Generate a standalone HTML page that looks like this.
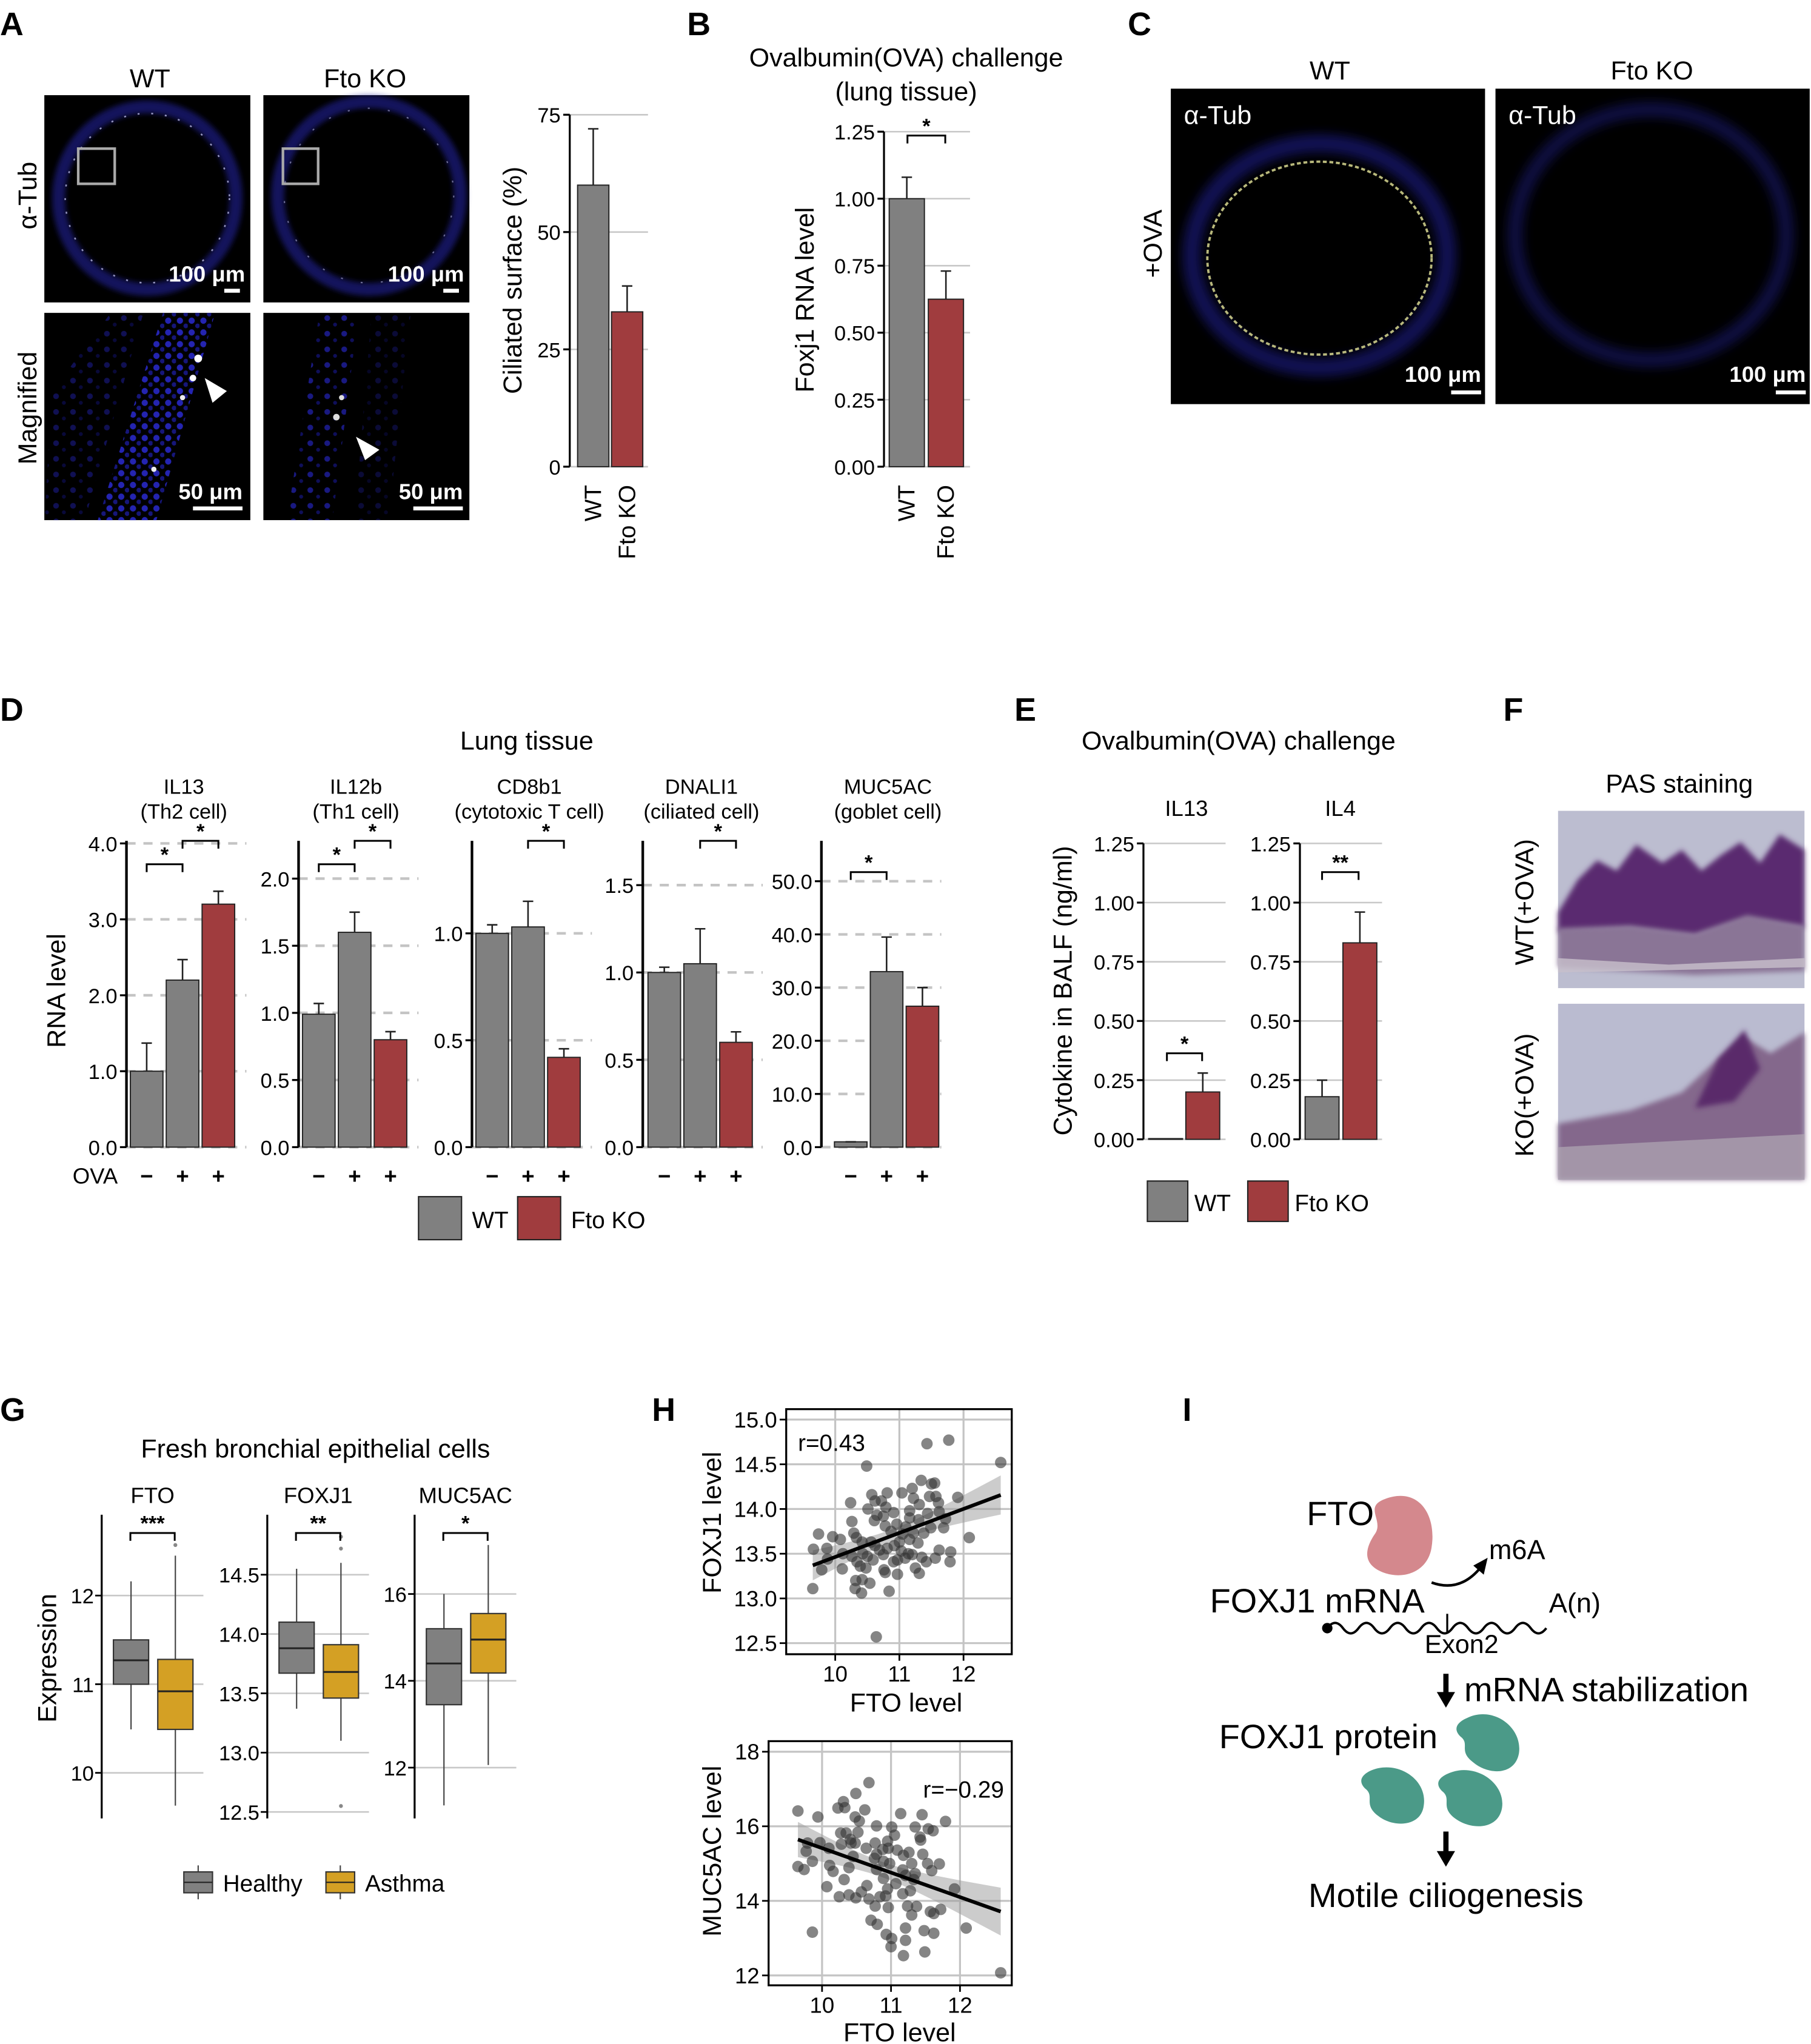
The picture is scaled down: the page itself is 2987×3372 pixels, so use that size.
<!DOCTYPE html>
<html><head><meta charset="utf-8">
<style>
html,body{margin:0;padding:0;background:#fff;}
svg{display:block;font-family:"Liberation Sans",Arial,sans-serif;}
</style></head>
<body>
<svg id="fig" width="2987" height="3372" viewBox="0 0 1389 1568" xmlns="http://www.w3.org/2000/svg">
<defs>
<filter id="blur2" x="-20%" y="-20%" width="140%" height="140%"><feGaussianBlur stdDeviation="2"/></filter>
<filter id="blur4" x="-20%" y="-20%" width="140%" height="140%"><feGaussianBlur stdDeviation="4"/></filter>
<pattern id="bluedots" width="9" height="9" patternUnits="userSpaceOnUse"><circle cx="3" cy="3" r="2.4" fill="#2a2ad0"/><circle cx="7.5" cy="7" r="1.8" fill="#1a1a90"/></pattern>
<pattern id="bluedots2" width="13" height="12" patternUnits="userSpaceOnUse"><circle cx="4" cy="4" r="2.2" fill="#2424b8"/><circle cx="10" cy="9" r="1.5" fill="#151580"/></pattern>
</defs>

<g font-size="25" font-weight="bold">
<text x="0" y="27">A</text>
<text x="527" y="27">B</text>
<text x="865" y="27">C</text>
<text x="0" y="553">D</text>
<text x="778" y="553">E</text>
<text x="1153" y="553">F</text>
<text x="0" y="1090">G</text>
<text x="500" y="1090">H</text>
<text x="907" y="1090">I</text>
</g>

<g>
<text x="115" y="67" font-size="20" text-anchor="middle">WT</text>
<text x="280" y="67" font-size="20" text-anchor="middle">Fto KO</text>
<text x="28" y="150" font-size="20" text-anchor="middle" transform="rotate(-90 28 150)">α-Tub</text>
<text x="28" y="313" font-size="20" text-anchor="middle" transform="rotate(-90 28 313)">Magnified</text>
<g>
<rect x="34" y="73" width="158" height="159" fill="#000"/>
<ellipse cx="113" cy="152" rx="68" ry="70" fill="none" stroke="#20209a" stroke-width="10" opacity="0.6" filter="url(#blur2)"/>
<ellipse cx="113" cy="152" rx="63" ry="65" fill="none" stroke="#d0d0ff" stroke-width="1.2" stroke-dasharray="1.5 9" opacity="0.7"/>
<rect x="60" y="114" width="28" height="27" fill="none" stroke="#aaa" stroke-width="2"/>
<text x="188" y="216" font-size="17" fill="#fff" font-weight="bold" text-anchor="end">100 μm</text>
<line x1="172" y1="223" x2="184" y2="223" stroke="#fff" stroke-width="3"/>
</g>
<g>
<rect x="202" y="73" width="158" height="159" fill="#000"/>
<ellipse cx="283" cy="150" rx="70" ry="72" fill="none" stroke="#20209a" stroke-width="10" opacity="0.6" filter="url(#blur2)"/>
<ellipse cx="283" cy="150" rx="65" ry="67" fill="none" stroke="#d0d0ff" stroke-width="1" stroke-dasharray="1.5 14" opacity="0.5"/>
<rect x="217" y="114" width="27" height="27" fill="none" stroke="#aaa" stroke-width="2"/>
<text x="356" y="216" font-size="17" fill="#fff" font-weight="bold" text-anchor="end">100 μm</text>
<line x1="340" y1="223" x2="352" y2="223" stroke="#fff" stroke-width="3"/>
</g>
<g>
<rect x="34" y="240" width="158" height="159" fill="#000"/>
<polygon points="125,240 165,240 120,399 75,399" fill="url(#bluedots)" opacity="0.85"/>
<polygon points="40,300 85,240 110,240 65,399 34,399" fill="url(#bluedots2)" opacity="0.45"/>
<circle cx="152" cy="275" r="3" fill="#fff"/><circle cx="148" cy="290" r="2.5" fill="#fff"/><circle cx="140" cy="305" r="2" fill="#eee"/><circle cx="118" cy="360" r="2" fill="#eee"/>
<polygon points="157,290 174,300 163,309" fill="#fff"/>
<text x="186" y="383" font-size="17" fill="#fff" font-weight="bold" text-anchor="end">50 μm</text>
<line x1="148" y1="390" x2="186" y2="390" stroke="#fff" stroke-width="3"/>
</g>
<g>
<rect x="202" y="240" width="158" height="159" fill="#000"/>
<polygon points="245,240 275,240 255,399 220,399" fill="url(#bluedots2)" opacity="0.7"/>
<polygon points="285,240 315,240 298,399 272,399" fill="url(#bluedots2)" opacity="0.3"/>
<circle cx="258" cy="320" r="2.5" fill="#ddd"/><circle cx="262" cy="305" r="2" fill="#ddd"/>
<polygon points="273,335 291,345 280,353" fill="#fff"/>
<text x="355" y="383" font-size="17" fill="#fff" font-weight="bold" text-anchor="end">50 μm</text>
<line x1="317" y1="390" x2="355" y2="390" stroke="#fff" stroke-width="3"/>
</g>
</g>

<g>
<text x="1020" y="61" font-size="20" text-anchor="middle">WT</text>
<text x="1267" y="61" font-size="20" text-anchor="middle">Fto KO</text>
<text x="891" y="187" font-size="20" text-anchor="middle" transform="rotate(-90 891 187)">+OVA</text>
<g>
<rect x="898" y="68" width="241" height="242" fill="#000"/>
<ellipse cx="1012" cy="196" rx="98" ry="86" fill="none" stroke="#1c1c8a" stroke-width="14" opacity="0.6" filter="url(#blur4)"/>
<ellipse cx="1012" cy="198" rx="86" ry="74" fill="none" stroke="#d8d890" stroke-width="1.8" stroke-dasharray="3 2" opacity="0.85"/>
<text x="908" y="95" font-size="20" fill="#fff">α-Tub</text>
<text x="1136" y="293" font-size="17" fill="#fff" font-weight="bold" text-anchor="end">100 μm</text>
<line x1="1113" y1="301" x2="1136" y2="301" stroke="#fff" stroke-width="3"/>
</g>
<g>
<rect x="1147" y="68" width="241" height="242" fill="#000"/>
<ellipse cx="1266" cy="180" rx="104" ry="96" fill="none" stroke="#1a1a80" stroke-width="12" opacity="0.5" filter="url(#blur4)"/>
<text x="1157" y="95" font-size="20" fill="#fff">α-Tub</text>
<text x="1385" y="293" font-size="17" fill="#fff" font-weight="bold" text-anchor="end">100 μm</text>
<line x1="1362" y1="301" x2="1385" y2="301" stroke="#fff" stroke-width="3"/>
</g>
</g>

<g>
<text x="1288" y="608" font-size="20" text-anchor="middle">PAS staining</text>
<text x="1176" y="692" font-size="20" text-anchor="middle" transform="rotate(-90 1176 692)">WT(+OVA)</text>
<text x="1176" y="840" font-size="20" text-anchor="middle" transform="rotate(-90 1176 840)">KO(+OVA)</text>
<g>
<rect x="1195" y="622" width="189" height="136" fill="#bcbdd0"/>
<polygon points="1195,700 1210,675 1225,660 1240,668 1255,648 1275,662 1290,652 1305,668 1320,656 1335,646 1350,662 1365,640 1384,652 1384,712 1340,705 1300,718 1250,712 1195,715" fill="#5a2a70" filter="url(#blur2)"/>
<polygon points="1195,712 1250,710 1300,716 1340,702 1384,710 1384,745 1300,748 1195,742" fill="#8a7496" filter="url(#blur2)"/>
<polygon points="1195,735 1280,740 1384,735 1384,742 1195,746" fill="#c8c0cc" opacity="0.8"/>
</g>
<g>
<rect x="1195" y="770" width="189" height="135" fill="#babbd0"/>
<polygon points="1195,862 1250,852 1290,838 1318,812 1338,796 1358,808 1384,792 1384,905 1195,905" fill="#84688c" filter="url(#blur2)"/>
<polygon points="1318,812 1338,790 1350,820 1330,845 1300,850" fill="#5a2a6a" filter="url(#blur2)"/>
<polygon points="1195,880 1384,870 1384,905 1195,905" fill="#b0a8b4" opacity="0.7"/>
</g>
</g>

<g>
<text x="1028" y="1170" font-size="26" text-anchor="middle">FTO</text>
<path d="M1062,1150 C1088,1140 1102,1162 1098,1187 C1095,1207 1074,1213 1058,1205 C1044,1198 1048,1186 1055,1176 C1061,1166 1046,1156 1062,1150Z" fill="#d4888d"/>
<path d="M1098,1214 Q1120,1222 1136,1202" fill="none" stroke="#000" stroke-width="2"/>
<polygon points="1141,1195 1138,1208 1130,1201" fill="#000"/>
<text x="1142" y="1196" font-size="21">m6A</text>
<text x="928" y="1237" font-size="26">FOXJ1 mRNA</text>
<path d="M1018,1249 q6,-8 12,0 t12,0 t12,0 t12,0 t12,0 t12,0 t12,0 t12,0 t12,0 t12,0 t12,0 t12,0 t12,0 t12,0" fill="none" stroke="#000" stroke-width="1.8"/>
<circle cx="1018" cy="1249" r="4" fill="#000"/>
<line x1="1110" y1="1238" x2="1110" y2="1252" stroke="#000" stroke-width="1.5"/>
<text x="1188" y="1237" font-size="21">A(n)</text>
<text x="1121" y="1268" font-size="20" text-anchor="middle">Exon2</text>
<line x1="1109" y1="1284" x2="1109" y2="1300" stroke="#000" stroke-width="4"/>
<polygon points="1102,1298 1116,1298 1109,1310" fill="#000"/>
<text x="1123" y="1305" font-size="26">mRNA stabilization</text>
<text x="935" y="1341" font-size="26">FOXJ1 protein</text>
<path d="M1125,1318 C1145,1308 1168,1325 1165,1345 C1162,1362 1142,1362 1130,1352 C1118,1343 1128,1338 1120,1332 C1114,1326 1118,1321 1125,1318Z" fill="#4b9a88"/>
<path d="M1052,1358 C1072,1350 1095,1365 1092,1385 C1090,1402 1068,1402 1057,1393 C1045,1384 1055,1378 1047,1372 C1041,1366 1045,1361 1052,1358Z" fill="#4b9a88"/>
<path d="M1112,1360 C1132,1352 1155,1368 1152,1387 C1149,1404 1128,1404 1116,1395 C1104,1386 1114,1380 1106,1374 C1100,1368 1104,1363 1112,1360Z" fill="#4b9a88"/>
<line x1="1109" y1="1405" x2="1109" y2="1422" stroke="#000" stroke-width="4"/>
<polygon points="1102,1420 1116,1420 1109,1432" fill="#000"/>
<text x="1109" y="1463" font-size="26" text-anchor="middle">Motile ciliogenesis</text>
</g>
</svg>

<script>
// Panel A
const aCats = ['WT', 'Fto KO'];
const aVals = [60, 33];
const aErr = [72, 38.5];
const aTicks = [0, 25, 50, 75];
// Panel B
const bCats = ['WT', 'Fto KO'];
const bVals = [1.0, 0.625];
const bErr = [1.08, 0.73];
const bTicks = [0, 0.25, 0.5, 0.75, 1.0, 1.25];
// Panel D
const dOva = ['−', '+', '+'];
const d1Vals = [1.0, 2.2, 3.2];
const d1Err = [1.37, 2.47, 3.37];
const d1Ticks = [0, 1, 2, 3, 4];
const d2Vals = [0.99, 1.6, 0.8];
const d2Err = [1.07, 1.75, 0.86];
const d2Ticks = [0, 0.5, 1, 1.5, 2];
const d3Vals = [1.0, 1.03, 0.42];
const d3Err = [1.04, 1.15, 0.46];
const d3Ticks = [0, 0.5, 1];
const d4Vals = [1.0, 1.05, 0.6];
const d4Err = [1.03, 1.25, 0.66];
const d4Ticks = [0, 0.5, 1, 1.5];
const d5Vals = [1, 33, 26.5];
const d5Err = [1, 39.5, 30];
const d5Ticks = [0, 10, 20, 30, 40, 50];
// Panel E
const eTicks = [0, 0.25, 0.5, 0.75, 1.0, 1.25];
const e1Vals = [0.003, 0.2];
const e1Err = [null, 0.28];
const e2Vals = [0.18, 0.83];
const e2Err = [0.25, 0.96];
// Panel G  [min, q1, median, q3, max]
const g1Healthy = [10.49, 11.0, 11.27, 11.5, 12.16];
const g1Asthma = [9.63, 10.49, 10.92, 11.28, 12.45];
const g1AsthmaOut = [12.57];
const g1Ticks = [10, 11, 12];
const g2Healthy = [13.37, 13.67, 13.88, 14.1, 14.55];
const g2Asthma = [13.1, 13.46, 13.68, 13.91, 14.6];
const g2AsthmaOut = [14.72, 14.82, 12.55];
const g2Ticks = [12.5, 13.0, 13.5, 14.0, 14.5];
const g3Healthy = [11.13, 13.45, 14.4, 15.2, 16.0];
const g3Asthma = [12.06, 14.18, 14.95, 15.55, 17.13];
const g3Ticks = [12, 14, 16];
// Panel H top
const h1x = [11.43,11.77,12.58,10.49,11.34,11.55,11.50,11.20,11.04,10.81,10.57,11.47,11.57,11.91,11.22,10.24,10.62,10.72,11.31,11.61,10.51,10.79,10.91,11.16,11.44,11.62,10.65,10.75,10.26,10.61,11.16,11.30,11.72,10.78,10.96,11.10,11.49,11.69,9.74,9.96,10.08,10.29,10.33,10.56,10.87,11.05,11.22,11.38,12.09,9.66,9.87,10.42,10.62,10.81,11.00,11.16,11.29,9.88,10.12,10.26,10.43,10.59,10.75,11.03,11.14,11.20,11.35,11.42,11.56,11.62,11.80,11.79,9.79,10.11,10.34,10.39,10.48,10.76,10.91,10.97,11.09,11.25,11.31,10.78,10.97,10.32,10.42,10.54,9.65,10.31,10.41,10.84,10.64,10.50,10.69,10.92];
const h1y = [14.73,14.77,14.52,14.48,14.32,14.29,14.28,14.23,14.18,14.18,14.16,14.14,14.14,14.13,14.12,14.07,14.09,14.09,14.05,14.07,14.00,14.02,13.96,13.98,13.95,13.97,13.93,13.92,13.86,13.87,13.90,13.88,13.89,13.81,13.83,13.80,13.79,13.79,13.72,13.69,13.66,13.73,13.68,13.63,13.75,13.72,13.73,13.73,13.68,13.55,13.56,13.63,13.59,13.56,13.63,13.66,13.62,13.44,13.50,13.47,13.50,13.43,13.49,13.53,13.50,13.49,13.46,13.41,13.45,13.54,13.52,13.41,13.32,13.33,13.41,13.36,13.34,13.32,13.41,13.43,13.45,13.34,13.28,13.29,13.27,13.20,13.21,13.17,13.11,13.11,13.06,13.08,12.57,13.47,13.54,13.59];
const h1xTicks = [10, 11, 12];
const h1yTicks = [12.5, 13.0, 13.5, 14.0, 14.5, 15.0];
// Panel H bottom
const h2x = [10.68,10.49,10.31,10.33,10.23,10.62,9.65,9.94,11.14,11.45,10.48,10.54,11.79,10.79,11.01,11.35,11.54,11.61,10.27,10.35,10.52,11.05,11.42,11.43,9.79,9.97,10.28,10.41,10.48,10.77,10.95,10.10,10.64,10.96,9.77,10.45,10.79,11.09,11.18,11.26,11.46,9.86,10.11,10.39,10.76,10.89,10.98,11.30,11.53,11.70,9.65,9.74,10.16,10.79,11.17,11.35,11.59,10.32,10.89,11.07,11.33,10.07,10.57,10.65,10.95,11.17,11.28,11.92,10.25,10.39,10.49,10.68,10.84,10.92,10.77,10.96,11.24,11.37,11.57,11.62,11.72,11.30,10.71,10.80,10.93,11.01,11.21,11.48,11.62,12.09,9.86,11.00,11.21,11.18,11.49,12.59,10.42,10.88,11.21];
const h2y = [17.17,16.88,16.66,16.50,16.49,16.44,16.41,16.25,16.34,16.31,16.25,16.14,16.13,16.01,15.98,15.98,15.93,15.88,15.82,15.82,15.84,15.76,15.71,15.63,15.55,15.56,15.52,15.65,15.55,15.55,15.60,15.41,15.41,15.41,15.33,15.19,15.25,15.36,15.22,15.30,15.25,15.06,14.95,14.89,15.14,15.06,15.00,15.00,15.00,14.99,14.92,14.84,14.79,14.84,14.83,14.73,14.81,14.57,14.60,14.46,14.57,14.38,14.24,14.41,14.32,14.19,14.27,14.32,14.11,14.16,14.08,14.05,14.11,14.13,13.86,13.82,13.86,13.85,13.71,13.66,13.77,13.62,13.48,13.37,13.10,12.99,13.27,13.20,13.13,13.27,13.16,12.77,12.94,12.53,12.63,12.07,15.55,15.38,14.68];
const h2xTicks = [10, 11, 12];
const h2yTicks = [12, 14, 16, 18];

const NS = 'http://www.w3.org/2000/svg';
const fig = document.getElementById('fig');
const GRAY = '#808080', RED = '#a03c3e', GOLD = '#d4a024';
function mk(tag, name, attrs, parent) {
  const e = document.createElementNS(NS, tag);
  
  
  for (const k in attrs) e.setAttribute(k, attrs[k]);
  (parent || fig).appendChild(e);
  return e;
}
function txt(name, x, y, s, size, anchor, parent, extra) {
  const a = Object.assign({x: x, y: y, 'font-size': size, 'text-anchor': anchor || 'middle', fill: '#000'}, extra || {});
  const t = mk('text', name, a, parent);
  t.textContent = s;
  return t;
}
function bracket(g, x1, x2, y, label) {
  mk('path', 'significance-bracket', {d: `M${x1},${y+6}V${y}H${x2}V${y+6}`, fill: 'none', stroke: '#000', 'stroke-width': 1.4}, g);
  txt('significance-stars', (x1+x2)/2, y-2, label, 16, 'middle', g, {'font-weight': 'bold'});
}
function fmt(v, d) { return v.toFixed(d); }

function barPanel(o) {
  const g = mk('g', o.name, {});
  const Y = v => o.y0 - (v / o.tMax) * (o.y0 - o.yTop);
  o.ticks.forEach(t => {
    const y = Y(t);
    mk('line', 'gridline', {x1: o.axisX, x2: o.gridEnd, y1: y, y2: y, stroke: o.dashed ? '#c4c4c4' : '#c8c8c8', 'stroke-width': o.dashed ? 2 : 1.2, 'stroke-dasharray': o.dashed ? '7 6' : 'none'}, g);
    mk('line', 'y-tick', {x1: o.axisX - 5, x2: o.axisX, y1: y, y2: y, stroke: '#000', 'stroke-width': 1.5}, g);
    txt('y-tick-label', o.axisX - 7, y + 6, fmt(t, o.dec), 16, 'end', g);
  });
  mk('line', 'y-axis', {x1: o.axisX, x2: o.axisX, y1: o.y0, y2: o.axisTop || o.yTop, stroke: '#000', 'stroke-width': o.axisW || 1.5}, g);
  o.vals.forEach((v, i) => {
    const x = o.barX0 + i * o.step;
    mk('rect', 'bar', {x: x, y: Y(v), width: o.barW, height: o.y0 - Y(v), fill: o.colors[i], stroke: '#222', 'stroke-width': 0.9}, g);
    if (o.errs[i] != null) {
      const cx = x + o.barW / 2;
      mk('line', 'error-bar', {x1: cx, x2: cx, y1: Y(v), y2: Y(o.errs[i]), stroke: '#222', 'stroke-width': 1.2}, g);
      mk('line', 'error-cap', {x1: cx - 4, x2: cx + 4, y1: Y(o.errs[i]), y2: Y(o.errs[i]), stroke: '#222', 'stroke-width': 1.2}, g);
    }
  });
  return {g: g, Y: Y, cx: i => o.barX0 + i * o.step + o.barW / 2};
}

const pa = barPanel({name: 'panel-a-chart', axisX: 437, y0: 358, yTop: 88, tMax: 75, ticks: aTicks, dec: 0, vals: aVals, errs: aErr, colors: [GRAY, RED], barX0: 443, barW: 24, step: 26, gridEnd: 497});
txt('a-y-axis-title', 400, 215, 'Ciliated surface (%)', 20, 'middle', pa.g, {transform: 'rotate(-90 400 215)'});
aCats.forEach((c, i) => {
  const x = pa.cx(i) + 6;
  txt('a-x-label', x, 372, c, 18, 'end', pa.g, {transform: `rotate(-90 ${x} 372)`});
});

txt('b-title-1', 695, 51, 'Ovalbumin(OVA) challenge', 20, 'middle');
txt('b-title-2', 695, 77, '(lung tissue)', 20, 'middle');
const pb = barPanel({name: 'panel-b-chart', axisX: 678, y0: 358, yTop: 101, tMax: 1.25, ticks: bTicks, dec: 2, vals: bVals, errs: bErr, colors: [GRAY, RED], barX0: 682, barW: 27, step: 30, gridEnd: 744});
bracket(pb.g, 696, 725, 104, '*');
txt('b-y-axis-title', 624, 230, 'Foxj1 RNA level', 20, 'middle', pb.g, {transform: 'rotate(-90 624 230)'});
bCats.forEach((c, i) => {
  const x = pb.cx(i) + 6;
  txt('b-x-label', x, 372, c, 18, 'end', pb.g, {transform: `rotate(-90 ${x} 372)`});
});

txt('d-title', 404, 575, 'Lung tissue', 20, 'middle');
const dCols = [GRAY, GRAY, RED];
const dDefs = [
  {name: 'd-il13-chart', axisX: 97, yTop: 647, tMax: 4, ticks: d1Ticks, dec: 1, vals: d1Vals, errs: d1Err, off: 3, t1: 'IL13', t2: '(Th2 cell)'},
  {name: 'd-il12b-chart', axisX: 229, yTop: 674, tMax: 2, ticks: d2Ticks, dec: 1, vals: d2Vals, errs: d2Err, off: 3, t1: 'IL12b', t2: '(Th1 cell)'},
  {name: 'd-cd8b1-chart', axisX: 362, yTop: 716, tMax: 1, ticks: d3Ticks, dec: 1, vals: d3Vals, errs: d3Err, off: 3, t1: 'CD8b1', t2: '(cytotoxic T cell)'},
  {name: 'd-dnali1-chart', axisX: 493, yTop: 679, tMax: 1.5, ticks: d4Ticks, dec: 1, vals: d4Vals, errs: d4Err, off: 4, t1: 'DNALI1', t2: '(ciliated cell)'},
  {name: 'd-muc5ac-chart', axisX: 630, yTop: 676, tMax: 50, ticks: d5Ticks, dec: 1, vals: d5Vals, errs: d5Err, off: 10, t1: 'MUC5AC', t2: '(goblet cell)'}
];
const dPanels = dDefs.map(d => {
  const p = barPanel({name: d.name, axisX: d.axisX, y0: 880, yTop: d.yTop, tMax: d.tMax, ticks: d.ticks, dec: d.dec, vals: d.vals, errs: d.errs, colors: dCols, barX0: d.axisX + d.off, barW: 25, step: 27.5, gridEnd: d.axisX + 92, dashed: true, axisTop: 645, axisW: 2});
  const mid = d.axisX + d.off + 41;
  txt('d-subtitle', mid, 609, d.t1, 16, 'middle', p.g);
  txt('d-subtitle-cell', mid, 628, d.t2, 16, 'middle', p.g);
  dOva.forEach((s, i) => txt('ova-sign', p.cx(i), 908, s, 17, 'middle', p.g, {'font-weight': 'bold'}));
  return p;
});
txt('d-ova-label', 73, 908, 'OVA', 17, 'middle');
txt('d-y-axis-title', 50, 760, 'RNA level', 20, 'middle', null, {transform: 'rotate(-90 50 760)'});
bracket(dPanels[0].g, dPanels[0].cx(0), dPanels[0].cx(1), 663, '*');
bracket(dPanels[0].g, dPanels[0].cx(1), dPanels[0].cx(2), 645, '*');
bracket(dPanels[1].g, dPanels[1].cx(0), dPanels[1].cx(1), 663, '*');
bracket(dPanels[1].g, dPanels[1].cx(1), dPanels[1].cx(2), 645, '*');
bracket(dPanels[2].g, dPanels[2].cx(1), dPanels[2].cx(2), 645, '*');
bracket(dPanels[3].g, dPanels[3].cx(1), dPanels[3].cx(2), 645, '*');
bracket(dPanels[4].g, dPanels[4].cx(0), dPanels[4].cx(1), 669, '*');
const dl = mk('g', 'd-legend', {});
mk('rect', 'legend-swatch-wt', {x: 321, y: 918, width: 33, height: 33, fill: GRAY, stroke: '#222'}, dl);
txt('legend-label-wt', 362, 942, 'WT', 18, 'start', dl);
mk('rect', 'legend-swatch-ko', {x: 397, y: 918, width: 33, height: 33, fill: RED, stroke: '#222'}, dl);
txt('legend-label-ko', 438, 942, 'Fto KO', 18, 'start', dl);

txt('e-title', 950, 575, 'Ovalbumin(OVA) challenge', 20, 'middle');
const pe1 = barPanel({name: 'e-il13-chart', axisX: 877, y0: 874, yTop: 647, tMax: 1.25, ticks: eTicks, dec: 2, vals: e1Vals, errs: e1Err, colors: [GRAY, RED], barX0: 881, barW: 26, step: 28.5, gridEnd: 940});
const pe2 = barPanel({name: 'e-il4-chart', axisX: 997, y0: 874, yTop: 647, tMax: 1.25, ticks: eTicks, dec: 2, vals: e2Vals, errs: e2Err, colors: [GRAY, RED], barX0: 1001, barW: 26, step: 29, gridEnd: 1060});
txt('e-il13-subtitle', 910, 626, 'IL13', 17, 'middle', pe1.g);
txt('e-il4-subtitle', 1028, 626, 'IL4', 17, 'middle', pe2.g);
bracket(pe1.g, 895, 922, 808, '*');
bracket(pe2.g, 1014, 1042, 669, '**');
txt('e-y-axis-title', 822, 760, 'Cytokine in BALF (ng/ml)', 20, 'middle', null, {transform: 'rotate(-90 822 760)'});
const el = mk('g', 'e-legend', {});
mk('rect', 'legend-swatch-wt', {x: 880, y: 906, width: 31, height: 31, fill: GRAY, stroke: '#222'}, el);
txt('legend-label-wt', 916, 929, 'WT', 18, 'start', el);
mk('rect', 'legend-swatch-ko', {x: 957, y: 906, width: 31, height: 31, fill: RED, stroke: '#222'}, el);
txt('legend-label-ko', 993, 929, 'Fto KO', 18, 'start', el);

txt('g-title', 242, 1118, 'Fresh bronchial epithelial cells', 20, 'middle');
txt('g-y-axis-title', 43, 1272, 'Expression', 20, 'middle', null, {transform: 'rotate(-90 43 1272)'});
function boxPanel(o) {
  const g = mk('g', o.name, {});
  const Y = v => o.yRef - (v - o.vRef) * o.ppu;
  o.ticks.forEach(t => {
    mk('line', 'gridline', {x1: o.axisX, x2: o.axisX + 78, y1: Y(t), y2: Y(t), stroke: '#c8c8c8', 'stroke-width': 1.2}, g);
    mk('line', 'y-tick', {x1: o.axisX - 5, x2: o.axisX, y1: Y(t), y2: Y(t), stroke: '#000', 'stroke-width': 1.3}, g);
    txt('y-tick-label', o.axisX - 6, Y(t) + 6, fmt(t, o.dec), 16, 'end', g);
  });
  mk('line', 'y-axis', {x1: o.axisX, x2: o.axisX, y1: 1162, y2: 1395, stroke: '#000', 'stroke-width': 1.5}, g);
  [o.healthy, o.asthma].forEach((s, i) => {
    const x = o.axisX + 9 + i * 34, w = 27, cx = x + w / 2;
    mk('line', 'whisker', {x1: cx, x2: cx, y1: Y(s[0]), y2: Y(s[4]), stroke: '#444', 'stroke-width': 1}, g);
    mk('rect', i ? 'box-asthma' : 'box-healthy', {x: x, y: Y(s[3]), width: w, height: Y(s[1]) - Y(s[3]), fill: i ? GOLD : GRAY, stroke: '#333', 'stroke-width': 1}, g);
    mk('line', 'median', {x1: x, x2: x + w, y1: Y(s[2]), y2: Y(s[2]), stroke: '#222', 'stroke-width': 1.4}, g);
  });
  (o.out || []).forEach(v => mk('circle', 'outlier', {cx: o.axisX + 56.5, cy: Y(v), r: 1.5, fill: '#888'}, g));
  txt('g-subtitle', o.axisX + 39, 1153, o.title, 17, 'middle', g);
  bracket(g, o.axisX + 22, o.axisX + 56, 1176, o.stars);
  return g;
}
boxPanel({name: 'g-fto-boxplot', axisX: 78, yRef: 1360, vRef: 10, ppu: 68, ticks: g1Ticks, dec: 0, healthy: g1Healthy, asthma: g1Asthma, out: g1AsthmaOut, title: 'FTO', stars: '***'});
boxPanel({name: 'g-foxj1-boxplot', axisX: 205, yRef: 1390, vRef: 12.5, ppu: 91, ticks: g2Ticks, dec: 1, healthy: g2Healthy, asthma: g2Asthma, out: g2AsthmaOut, title: 'FOXJ1', stars: '**'});
boxPanel({name: 'g-muc5ac-boxplot', axisX: 318, yRef: 1356, vRef: 12, ppu: 33.3, ticks: g3Ticks, dec: 0, healthy: g3Healthy, asthma: g3Asthma, out: [], title: 'MUC5AC', stars: '*'});
const gl = mk('g', 'g-legend', {});
mk('line', 'legend-whisker', {x1: 152, x2: 152, y1: 1431, y2: 1457, stroke: '#444'}, gl);
mk('rect', 'legend-swatch-healthy', {x: 141, y: 1436, width: 22, height: 16, fill: GRAY, stroke: '#333'}, gl);
mk('line', 'legend-median', {x1: 141, x2: 163, y1: 1444, y2: 1444, stroke: '#222'}, gl);
txt('legend-label-healthy', 171, 1451, 'Healthy', 18, 'start', gl);
mk('line', 'legend-whisker', {x1: 261, x2: 261, y1: 1431, y2: 1457, stroke: '#444'}, gl);
mk('rect', 'legend-swatch-asthma', {x: 250, y: 1436, width: 22, height: 16, fill: GOLD, stroke: '#333'}, gl);
mk('line', 'legend-median', {x1: 250, x2: 272, y1: 1444, y2: 1444, stroke: '#222'}, gl);
txt('legend-label-asthma', 280, 1451, 'Asthma', 18, 'start', gl);

function scatter(o) {
  const g = mk('g', o.name, {});
  const X = v => o.xRef + (v - o.xv) * o.xppu;
  const Y = v => o.yRef - (v - o.yv) * o.yppu;
  o.xTicks.forEach(t => {
    mk('line', 'x-gridline', {x1: X(t), x2: X(t), y1: o.top, y2: o.bottom, stroke: '#c4c4c4', 'stroke-width': 1.5}, g);
    mk('line', 'x-tick', {x1: X(t), x2: X(t), y1: o.bottom, y2: o.bottom + 5, stroke: '#000', 'stroke-width': 1.3}, g);
    txt('x-tick-label', X(t), o.bottom + 21, String(t), 17, 'middle', g);
  });
  o.yTicks.forEach(t => {
    mk('line', 'y-gridline', {x1: o.left, x2: o.right, y1: Y(t), y2: Y(t), stroke: '#c4c4c4', 'stroke-width': 1.5}, g);
    mk('line', 'y-tick', {x1: o.left - 5, x2: o.left, y1: Y(t), y2: Y(t), stroke: '#000', 'stroke-width': 1.3}, g);
    txt('y-tick-label', o.left - 7, Y(t) + 6, fmt(t, o.dec), 17, 'end', g);
  });
  const n = o.xs.length;
  const mx = o.xs.reduce((a, b) => a + b, 0) / n, my = o.ys.reduce((a, b) => a + b, 0) / n;
  let sxx = 0, sxy = 0;
  for (let i = 0; i < n; i++) { sxx += (o.xs[i] - mx) ** 2; sxy += (o.xs[i] - mx) * (o.ys[i] - my); }
  const b = sxy / sxx, a = my - b * mx;
  let sse = 0;
  for (let i = 0; i < n; i++) sse += (o.ys[i] - a - b * o.xs[i]) ** 2;
  const s = Math.sqrt(sse / (n - 2));
  const xmin = Math.min(...o.xs), xmax = Math.max(...o.xs);
  const up = [], lo = [];
  for (let k = 0; k <= 20; k++) {
    const xv = xmin + (xmax - xmin) * k / 20;
    const se = 1.98 * s * Math.sqrt(1 / n + (xv - mx) ** 2 / sxx);
    up.push(X(xv) + ',' + Y(a + b * xv + se));
    lo.unshift(X(xv) + ',' + Y(a + b * xv - se));
  }
  mk('polygon', 'confidence-band', {points: up.concat(lo).join(' '), fill: '#9a9a9a', opacity: 0.5}, g);
  o.xs.forEach((xv, i) => mk('circle', 'point', {cx: X(xv), cy: Y(o.ys[i]), r: 4.4, fill: '#333', 'fill-opacity': 0.6}, g));
  mk('line', 'regression-line', {x1: X(xmin), y1: Y(a + b * xmin), x2: X(xmax), y2: Y(a + b * xmax), stroke: '#000', 'stroke-width': 2.8}, g);
  mk('rect', 'plot-border', {x: o.left, y: o.top, width: o.right - o.left, height: o.bottom - o.top, fill: 'none', stroke: '#000', 'stroke-width': 1.5}, g);
  return g;
}
const h1 = scatter({name: 'h-foxj1-scatter', xs: h1x, ys: h1y, xTicks: h1xTicks, yTicks: h1yTicks, dec: 1, xRef: 640.6, xv: 10, xppu: 49.2, yRef: 1089, yv: 15, yppu: 68.6, left: 603, right: 776, top: 1081, bottom: 1269});
txt('h-r-top', 612, 1113, 'r=0.43', 18, 'start', h1);
txt('h-top-x-title', 695, 1313, 'FTO level', 20, 'middle', h1);
txt('h-top-y-title', 553, 1168, 'FOXJ1 level', 20, 'middle', h1, {transform: 'rotate(-90 553 1168)'});
const h2 = scatter({name: 'h-muc5ac-scatter', xs: h2x, ys: h2y, xTicks: h2xTicks, yTicks: h2yTicks, dec: 0, xRef: 630.5, xv: 10, xppu: 52.9, yRef: 1343.8, yv: 18, yppu: 28.6, left: 589.5, right: 776, top: 1335.7, bottom: 1523});
txt('h-r-bottom', 770, 1379, 'r=−0.29', 18, 'end', h2);
txt('h-bottom-x-title', 690, 1566, 'FTO level', 20, 'middle', h2);
txt('h-bottom-y-title', 553, 1420, 'MUC5AC level', 20, 'middle', h2, {transform: 'rotate(-90 553 1420)'});
</script>
</body></html>
